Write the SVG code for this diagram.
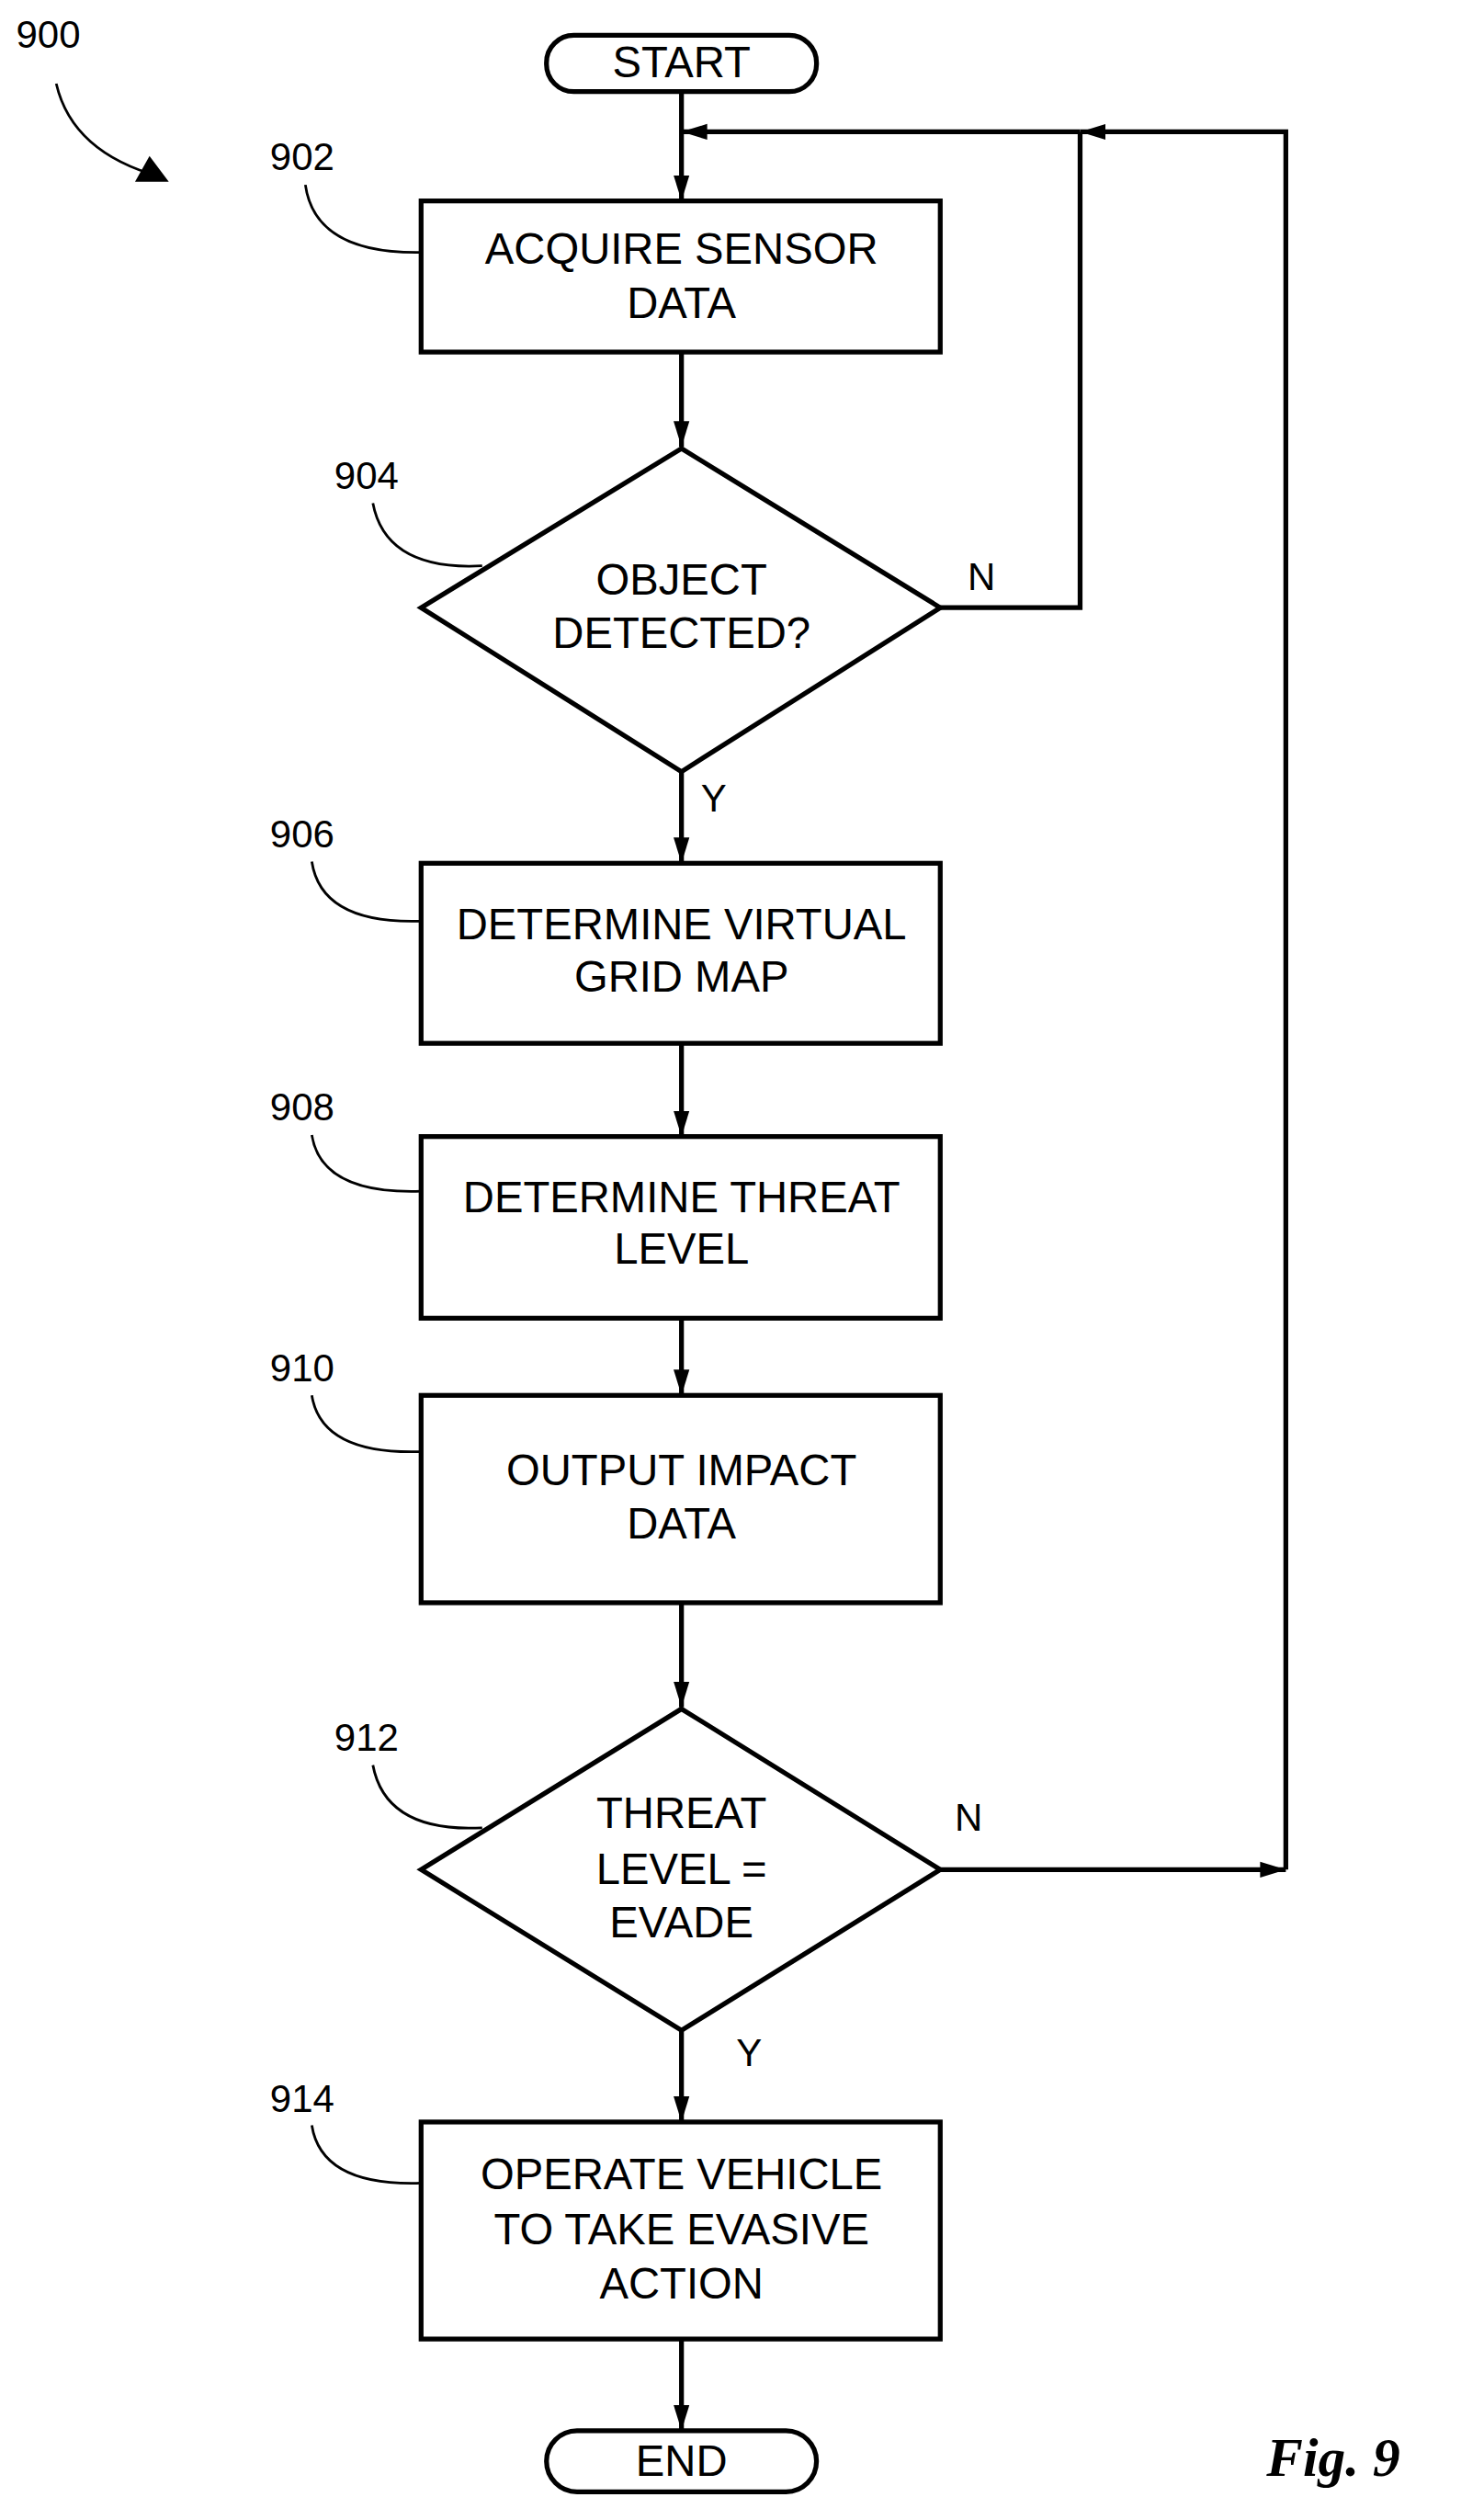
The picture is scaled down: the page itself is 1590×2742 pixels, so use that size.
<svg xmlns="http://www.w3.org/2000/svg" width="1590" height="2742" viewBox="0 0 1590 2742">
<style>
.s{fill:none;stroke:#000;stroke-width:3}
.b{fill:#fff;stroke:#000;stroke-width:3}
.t{font-family:"Liberation Sans",Arial,sans-serif;font-size:27px;text-anchor:middle;fill:#000}
.l{font-family:"Liberation Sans",Arial,sans-serif;font-size:24px;fill:#000}
.th{fill:none;stroke:#000;stroke-width:1.6}
</style>
<defs>
<marker id="a" markerUnits="userSpaceOnUse" markerWidth="16" markerHeight="26" viewBox="0 0 26 16" refX="26" refY="8" orient="auto"><path d="M0,0 L26,8 L0,16 Z" fill="#000"/></marker>
</defs>
<rect width="1590" height="2742" fill="#fff"/>
<g transform="scale(1.7492)">
<g id="connectors">
<path class="s" d="M424,57 V125" marker-end="url(#a)"/>
<path class="s" d="M672,82 H424" marker-end="url(#a)"/>
<path class="s" d="M800,1163 V82 H672" marker-end="url(#a)"/>
<path class="s" d="M585,378 H672 V82"/>
<path class="s" d="M424,219 V278" marker-end="url(#a)"/>
<path class="s" d="M424,480 V537" marker-end="url(#a)"/>
<path class="s" d="M424,649 V707" marker-end="url(#a)"/>
<path class="s" d="M424,820 V868" marker-end="url(#a)"/>
<path class="s" d="M424,997 V1062" marker-end="url(#a)"/>
<path class="s" d="M585,1163 H800" marker-end="url(#a)"/>
<path class="s" d="M424,1263 V1320" marker-end="url(#a)"/>
<path class="s" d="M424,1455 V1512" marker-end="url(#a)"/>
<text class="l" x="602" y="367">N</text>
<text class="l" x="436" y="505">Y</text>
<text class="l" x="594" y="1139">N</text>
<text class="l" x="458" y="1285">Y</text>
</g>
<g id="ref900">
<text class="l" x="10" y="30">900</text>
<path class="th" d="M35,52 Q45,95 100,110"/>
<path d="M105,113 L84,113 L93,97 Z" fill="#000"/>
</g>
<g id="start"><rect class="b" x="340" y="22" width="168" height="35" rx="17"/><text class="t" x="424" y="48">START</text></g>
<g id="n902"><rect class="b" x="262" y="125" width="323" height="94"/><text class="t" x="424" y="164">ACQUIRE SENSOR</text><text class="t" x="424" y="198">DATA</text>
<text class="l" x="168" y="106">902</text><path class="th" d="M190,115 Q196,158 262,157"/></g>
<g id="n904"><path class="b" d="M424,279 L585,378 L424,480 L262,378 Z"/><text class="t" x="424" y="370">OBJECT</text><text class="t" x="424" y="403">DETECTED?</text>
<text class="l" x="208" y="304">904</text><path class="th" d="M232,313 Q240,355 300,352"/></g>
<g id="n906"><rect class="b" x="262" y="537" width="323" height="112"/><text class="t" x="424" y="584">DETERMINE VIRTUAL</text><text class="t" x="424" y="617">GRID MAP</text>
<text class="l" x="168" y="527">906</text><path class="th" d="M194,536 Q200,575 262,573"/></g>
<g id="n908"><rect class="b" x="262" y="707" width="323" height="113"/><text class="t" x="424" y="754">DETERMINE THREAT</text><text class="t" x="424" y="786">LEVEL</text>
<text class="l" x="168" y="697">908</text><path class="th" d="M194,706 Q200,743 262,741"/></g>
<g id="n910"><rect class="b" x="262" y="868" width="323" height="129"/><text class="t" x="424" y="924">OUTPUT IMPACT</text><text class="t" x="424" y="957">DATA</text>
<text class="l" x="168" y="859">910</text><path class="th" d="M194,868 Q200,905 262,903"/></g>
<g id="n912"><path class="b" d="M424,1063 L585,1163 L424,1263 L262,1163 Z"/><text class="t" x="424" y="1137">THREAT</text><text class="t" x="424" y="1172">LEVEL =</text><text class="t" x="424" y="1205">EVADE</text>
<text class="l" x="208" y="1089">912</text><path class="th" d="M232,1098 Q240,1140 300,1137"/></g>
<g id="n914"><rect class="b" x="262" y="1320" width="323" height="135"/><text class="t" x="424" y="1362">OPERATE VEHICLE</text><text class="t" x="424" y="1396">TO TAKE EVASIVE</text><text class="t" x="424" y="1430">ACTION</text>
<text class="l" x="168" y="1314">914</text><path class="th" d="M194,1322 Q200,1360 262,1358"/></g>
<g id="end"><rect class="b" x="340" y="1512" width="168" height="38" rx="19"/><text class="t" x="424" y="1540">END</text></g>
<text x="788" y="1540" style="font-family:'Liberation Serif',serif;font-weight:bold;font-style:italic;font-size:34px">Fig. 9</text>
</g>
</svg>
